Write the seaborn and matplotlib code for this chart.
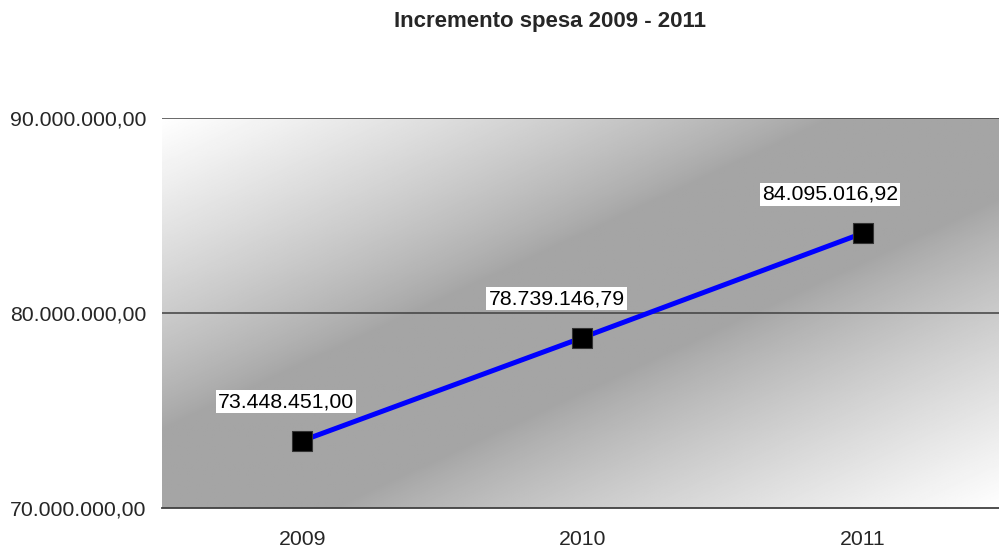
import numpy as np
import pandas as pd
import seaborn as sns
import matplotlib.pyplot as plt
from matplotlib.ticker import FuncFormatter, FixedLocator

# data
years = ["2009", "2010", "2011"]
spesa = [73448451.00, 78739146.79, 84095016.92]
y_ticks = [70000000, 80000000, 90000000]

sns.set_style("white")
plt.rcParams['font.family'] = ['Liberation Sans', 'DejaVu Sans']


def fmt_it(v, pos=None):
    # italian style: 1.234.567,89
    s = "{:,.2f}".format(v)
    return s.replace(",", "X").replace(".", ",").replace("X", ".")


df = pd.DataFrame({"idx": np.arange(len(years)), "spesa": spesa})

fig = plt.figure(figsize=(9.99, 5.53), dpi=100)
ax = fig.add_axes([162 / 999, 45 / 553, 841 / 999, 390 / 553])

# diagonal gradient background: gray band, white corners
u, v = np.meshgrid(np.linspace(0, 1, 400), np.linspace(0, 1, 400))
d = np.clip((np.abs(u - v) - 0.2) / 0.8, 0, 1) ** 0.85
shade = 0.645 + 0.355 * d
ax.imshow(shade, cmap="gray", vmin=0, vmax=1, extent=[0, 1, 0, 1],
          origin="lower", aspect="auto", transform=ax.transAxes, zorder=0,
          interpolation="bilinear")

sns.lineplot(data=df, x="idx", y="spesa", color="#0000ff", linewidth=3.6,
             ax=ax, zorder=3)
sns.scatterplot(data=df, x="idx", y="spesa", marker="s", s=210, color="black",
                edgecolor="#333333", linewidth=0.8, ax=ax, zorder=4)

# data labels
label_dx = [-16, -26, -33]
for i, val in enumerate(spesa):
    ax.annotate(fmt_it(val), (i, val), xytext=(label_dx[i] / 1.389, 39 / 1.389),
                textcoords="offset points", ha="center", va="center",
                fontsize=15.3, color="black", zorder=5,
                bbox=dict(boxstyle="square,pad=0.1", fc="white", ec="none"))

ax.set_xlim(-0.5, len(years) - 0.5)
ax.set_ylim(y_ticks[0], y_ticks[-1])
ax.set_yticks(y_ticks)
ax.yaxis.set_major_formatter(FuncFormatter(fmt_it))
ax.set_xticks(np.arange(len(years)))
ax.set_xticklabels(years)
ax.xaxis.set_minor_locator(FixedLocator(np.arange(len(years) + 1) - 0.5))
ax.tick_params(axis="x", which="major", length=0, pad=16, labelsize=15.3)
ax.tick_params(axis="x", which="minor", length=6, width=1, color="#404040",
               direction="out")
ax.tick_params(axis="y", length=0, pad=11.5, labelsize=15.3)
ax.set_xlabel("")
ax.set_ylabel("")

for yv in y_ticks[1:]:
    ax.axhline(yv, color="#404040", linewidth=1.1, zorder=2)

for side in ["left", "right", "top"]:
    ax.spines[side].set_visible(False)
ax.spines["bottom"].set_color("#404040")
ax.spines["bottom"].set_linewidth(1.3)

fig.text(549.5 / 999, 1 - 22 / 553, "Incremento spesa 2009 - 2011",
         ha="center", va="center", fontsize=16, fontweight="bold")

fig.savefig("out.png", dpi=100)
